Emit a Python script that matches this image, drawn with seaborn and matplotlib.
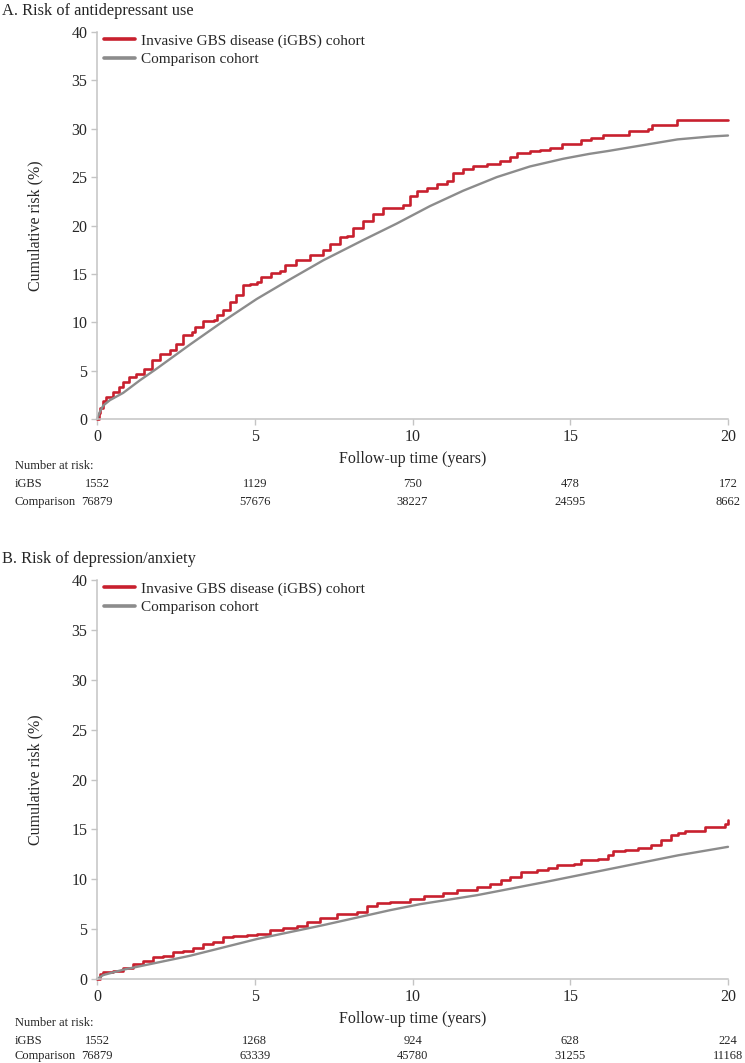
import matplotlib
matplotlib.use('Agg')
import matplotlib.pyplot as plt
import seaborn as sns

# Panel A: antidepressant use, cumulative risk (%)
a_igbs_t = [0, 0.05, 0.1, 0.2, 0.3, 0.5, 0.7, 0.83, 1.0, 1.25, 1.5, 1.73, 2.0, 2.3, 2.5, 2.73,
            3.0, 3.1, 3.37, 3.7, 3.8, 4.0, 4.2, 4.42, 4.63, 4.85, 5.06, 5.2, 5.5, 5.8, 5.96,
            6.3, 6.75, 7.17, 7.4, 7.7, 7.92, 8.12, 8.44, 8.76, 9.07, 9.39, 9.71, 9.92, 10.13,
            10.45, 10.77, 11.08, 11.29, 11.61, 11.93, 12.35, 12.77, 13.09, 13.3, 13.72, 14.04,
            14.37, 14.75, 15.34, 15.66, 16.04, 16.85, 17.45, 17.6, 18.37, 20.0]
a_igbs_v = [0, 0.6, 1.1, 1.9, 2.3, 2.8, 3.3, 3.8, 4.3, 4.7, 5.2, 6.1, 6.7, 7.1, 7.8, 8.7,
            9.0, 9.5, 10.1, 10.2, 10.8, 11.3, 12.1, 12.8, 13.8, 14.0, 14.2, 14.7, 15.1, 15.3, 15.9,
            16.4, 17.0, 17.5, 18.1, 18.8, 18.9, 19.7, 20.5, 21.2, 21.8, 21.8, 22.1, 23.1, 23.6,
            23.9, 24.3, 24.6, 25.4, 25.8, 26.2, 26.4, 26.7, 27.1, 27.5, 27.7, 27.8,
            28.0, 28.4, 28.8, 29.0, 29.4, 29.8, 30.0, 30.4, 30.9, 30.9]
a_comp_t = [0, 0.1, 0.2, 0.41, 0.83, 1.36, 1.89, 2.95, 4.0, 5.06, 6.1, 7.17, 8.44, 9.5,
            10.55, 11.61, 12.67, 13.72, 14.78, 15.6, 16.2, 17.3, 18.4, 19.45, 20.0]
a_comp_v = [0, 0.8, 1.4, 1.95, 2.7, 4.0, 5.2, 7.7, 10.1, 12.4, 14.4, 16.4, 18.5, 20.2,
            22.0, 23.6, 25.0, 26.1, 26.9, 27.4, 27.7, 28.3, 28.9, 29.2, 29.3]
a_risk_igbs = ['1552', '1129', '750', '478', '172']
a_risk_comp = ['76879', '57676', '38227', '24595', '8662']

# Panel B: depression/anxiety
b_igbs_t = [0, 0.1, 0.2, 0.52, 0.83, 1.15, 1.47, 1.79, 2.1, 2.42, 2.74, 3.05, 3.37, 3.69,
            4.0, 4.32, 4.74, 5.06, 5.48, 5.9, 6.33, 6.65, 7.07, 7.6, 8.23, 8.55, 8.86, 9.29,
            9.92, 10.35, 10.98, 11.41, 12.04, 12.47, 12.79, 13.1, 13.43, 13.96, 14.28, 14.59,
            15.12, 15.34, 15.87, 16.19, 16.35, 16.72, 17.14, 17.57, 17.89, 18.2, 18.42, 18.63,
            19.27, 19.9, 20.0]
b_igbs_v = [0, 0.5, 0.73, 0.83, 1.07, 1.5, 1.83, 2.17, 2.33, 2.67, 2.83, 3.07, 3.5, 3.67,
            4.17, 4.33, 4.43, 4.5, 4.9, 5.1, 5.33, 5.73, 6.07, 6.5, 6.67, 7.33, 7.6, 7.73,
            8.0, 8.36, 8.6, 8.97, 9.2, 9.55, 9.88, 10.2, 10.7, 10.9, 11.1, 11.45,
            11.55, 11.9, 12.07, 12.4, 12.8, 12.9, 13.15, 13.4, 13.9, 14.4, 14.67, 14.86,
            15.27, 15.5, 15.9]
b_comp_t = [0, 0.2, 0.83, 2.95, 5.06, 7.17, 9.29, 10.24, 12.04, 14.17, 16.29, 18.42, 20.0]
b_comp_v = [0, 0.4, 0.93, 2.33, 4.0, 5.4, 6.9, 7.5, 8.4, 9.7, 11.05, 12.4, 13.25]
b_risk_igbs = ['1552', '1268', '924', '628', '224']
b_risk_comp = ['76879', '63339', '45780', '31255', '11168']

risk_times = [0, 5, 10, 15, 20]
red = '#C8202E'
grey = '#8C8C8C'
spine_col = '#C4C4C4'

sns.set_style('white')
plt.rcParams['font.family'] = ['Liberation Serif', 'DejaVu Serif']

fig = plt.figure(figsize=(7.45, 10.63), dpi=100)
W, H = 745, 1063


def panel(top, bottom, title, it, iv, ct, cv, r_igbs, r_comp, rows):
    h = bottom - top
    ax = fig.add_axes([97 / W, 1 - bottom / H, 631 / W, h / H])
    sns.lineplot(x=it, y=iv, drawstyle='steps-post', color=red, lw=1.9,
                 label='Invasive GBS disease (iGBS) cohort', ax=ax)
    sns.lineplot(x=ct, y=cv, color=grey, lw=1.7, label='Comparison cohort', ax=ax)
    for ln in ax.lines:
        ln.set_clip_on(False)
    ax.set_xlim(0, 20)
    ax.set_ylim(0, 40)
    ax.set_xticks([0, 5, 10, 15, 20])
    ax.set_yticks(range(0, 41, 5))
    for s in ['top', 'right']:
        ax.spines[s].set_visible(False)
    for s in ['left', 'bottom']:
        ax.spines[s].set_color(spine_col)
        ax.spines[s].set_linewidth(1.1)
    ax.tick_params(direction='out', length=4, width=1, color=spine_col,
                   labelsize=11.5, pad=3, left=True, bottom=True)
    ax.set_xlabel('Follow-up time (years)', fontsize=11.5)
    ax.set_ylabel('Cumulative risk (%)', fontsize=11.5)
    ax.xaxis.set_label_coords(0.5, -32 / h)
    ax.yaxis.set_label_coords(-54 / 631, 0.5)
    leg = ax.legend(loc='upper left', bbox_to_anchor=(7 / 631, 1 - 2 / h), frameon=False,
                    fontsize=11, handlelength=2.0, handletextpad=0.4, labelspacing=0.3,
                    borderpad=0, borderaxespad=0)
    for ln in leg.get_lines():
        ln.set_linewidth(2.6)
    fig.text(2 / W, 1 - (top - 21) / H, title, fontsize=11.8, va='center', ha='left')
    # number at risk table
    tr = ax.get_xaxis_transform()
    y0, y1, y2 = [-r / h for r in rows]
    ax.text(-82 / 631, y0, 'Number at risk:', transform=ax.transAxes,
            fontsize=9, va='center', ha='left')
    ax.text(-82 / 631, y1, 'iGBS', transform=ax.transAxes,
            fontsize=9, va='center', ha='left')
    ax.text(-82 / 631, y2, 'Comparison', transform=ax.transAxes,
            fontsize=9, va='center', ha='left')
    for t, n1, n2 in zip(risk_times, r_igbs, r_comp):
        ax.text(t, y1, n1, transform=tr, fontsize=9, va='center', ha='center')
        ax.text(t, y2, n2, transform=tr, fontsize=9, va='center', ha='center')
    return ax


panel(32, 419, 'A. Risk of antidepressant use',
      a_igbs_t, a_igbs_v, a_comp_t, a_comp_v, a_risk_igbs, a_risk_comp, (47, 65, 83))
panel(580, 979, 'B. Risk of depression/anxiety',
      b_igbs_t, b_igbs_v, b_comp_t, b_comp_v, b_risk_igbs, b_risk_comp, (44, 62, 77))

fig.savefig('out.png', dpi=100, facecolor='white')
